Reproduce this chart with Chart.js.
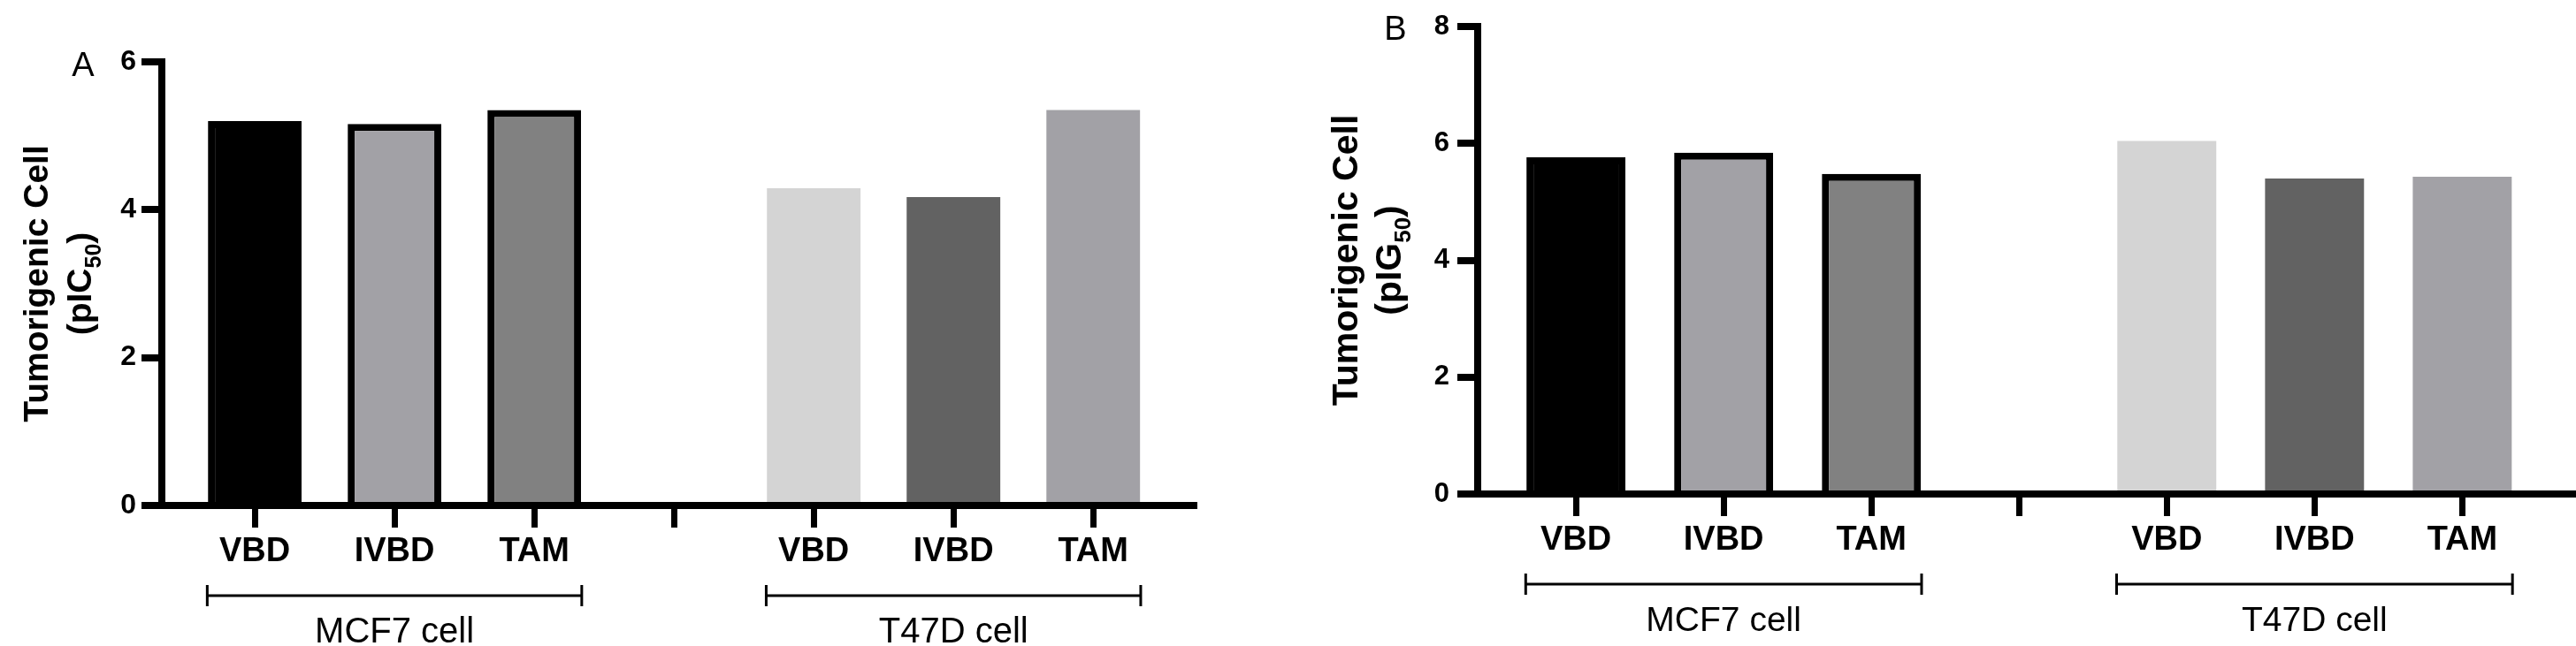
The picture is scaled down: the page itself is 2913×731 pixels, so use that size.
<!DOCTYPE html>
<html lang="en">

<head>
    <meta charset="UTF-8">
    <script src="https://cdn.jsdelivr.net/npm/chart.js@4"></script>
    <title>Tumorigenic Cell</title>
    <style>
        html, body { margin: 0; padding: 0; background: #fff; }
        body { width: 2913px; height: 731px; position: relative; overflow: hidden; }
        .painel { position: absolute; top: 0; height: 731px; }
        #painelA { left: 0; width: 1456px; }
        #painelB { left: 1456px; width: 1457px; }
    </style>
</head>

<body>
    <div class="painel" id="painelA"><canvas id="graficoA"></canvas></div>
    <div class="painel" id="painelB"><canvas id="graficoB"></canvas></div>
</body>

</html>

<script>
    // categories on the x axis (blank slot = gap between the two cell lines)
    const tickLabels = ['VBD', 'IVBD', 'TAM', '', 'VBD', 'IVBD', 'TAM'];
    const groupNames = ['MCF7 cell', 'T47D cell'];
    const groupFirst = [0, 4];
    const groupLast = [2, 6];

    // pIC50 (panel A) and pIG50 (panel B)
    const valuesA = [5.20, 5.16, 5.35, null, 4.29, 4.17, 5.35];
    const valuesB = [5.76, 5.84, 5.48, null, 6.04, 5.40, 5.43];

    const yTicksA = [0, 2, 4, 6];
    const yTicksB = [0, 2, 4, 6, 8];

    const barColors = ['#000000', '#a2a1a6', '#818181', null, '#d4d4d4', '#626262', '#a2a1a6'];
    const barBorders = [8, 8, 8, 0, 0, 0, 0];

    const FONT = '"Liberation Sans", Arial, sans-serif';

    function criarGrafico(canvasId, cfg) {
        const pontos = [];
        const cores = [];
        const bordas = [];
        cfg.values.forEach((v, i) => {
            if (v === null) return;
            pontos.push({ x: i, y: v });
            cores.push(barColors[i]);
            bordas.push(barBorders[i]);
        });

        // letter, rotated y title with subscript, group brackets
        const decoracao = {
            id: 'decoracao',
            afterDraw(chart) {
                const ctx = chart.ctx;
                const area = chart.chartArea;
                const sx = chart.scales.x;
                ctx.save();
                ctx.fillStyle = '#000';
                ctx.strokeStyle = '#000';

                ctx.font = `38px ${FONT}`;
                ctx.textAlign = 'center';
                ctx.textBaseline = 'alphabetic';
                ctx.fillText(cfg.letter, cfg.letterX, cfg.letterY);

                const cy = (area.top + area.bottom) / 2;
                ctx.save();
                ctx.translate(cfg.title1X, cy);
                ctx.rotate(-Math.PI / 2);
                ctx.font = `bold ${cfg.titleSize}px ${FONT}`;
                ctx.textAlign = 'center';
                ctx.fillText('Tumorigenic Cell', 0, 0);
                ctx.restore();

                ctx.save();
                ctx.translate(cfg.title2X, cy);
                ctx.rotate(-Math.PI / 2);
                const fGrande = `bold ${cfg.titleSize}px ${FONT}`;
                const fSub = `bold ${Math.round(cfg.titleSize * 0.64)}px ${FONT}`;
                const p1 = '(pI' + cfg.subLetter;
                const p2 = '50';
                const p3 = ')';
                ctx.font = fGrande;
                const w1 = ctx.measureText(p1).width;
                const w3 = ctx.measureText(p3).width;
                ctx.font = fSub;
                const w2 = ctx.measureText(p2).width;
                let x0 = -(w1 + w2 + w3) / 2;
                ctx.textAlign = 'left';
                ctx.font = fGrande;
                ctx.fillText(p1, x0, 0);
                ctx.font = fSub;
                ctx.fillText(p2, x0 + w1, 11);
                ctx.font = fGrande;
                ctx.fillText(p3, x0 + w1 + w2, 0);
                ctx.restore();

                ctx.lineWidth = 3;
                ctx.textAlign = 'center';
                ctx.font = `${cfg.groupSize}px ${FONT}`;
                groupNames.forEach((nome, k) => {
                    const x1 = sx.getPixelForValue(groupFirst[k] - 0.34);
                    const x2 = sx.getPixelForValue(groupLast[k] + 0.34);
                    const y = area.bottom + 102;
                    ctx.beginPath();
                    ctx.moveTo(x1, y);
                    ctx.lineTo(x2, y);
                    ctx.moveTo(x1, y - 12);
                    ctx.lineTo(x1, y + 12);
                    ctx.moveTo(x2, y - 12);
                    ctx.lineTo(x2, y + 12);
                    ctx.stroke();
                    ctx.fillText(nome, (x1 + x2) / 2, area.bottom + 155);
                });
                ctx.restore();
            }
        };

        return new Chart(document.getElementById(canvasId), {
            type: 'bar',
            data: {
                datasets: [{
                    data: pontos,
                    backgroundColor: cores,
                    borderColor: '#000',
                    borderWidth: bordas,
                    borderSkipped: 'bottom',
                    barPercentage: 0.67,
                    categoryPercentage: 1
                }]
            },
            options: {
                responsive: true,
                maintainAspectRatio: false,
                animation: false,
                devicePixelRatio: 1,
                layout: { padding: { left: 0, top: cfg.top, right: cfg.padRight, bottom: cfg.padBottom } },
                plugins: { legend: { display: false }, tooltip: { enabled: false } },
                scales: {
                    x: {
                        type: 'linear',
                        offset: false,
                        min: -0.665,
                        max: cfg.xMax,
                        z: 1,
                        afterBuildTicks: (s) => { s.ticks = tickLabels.map((t, i) => ({ value: i })); },
                        afterFit: (s) => { s.height = 100; },
                        ticks: {
                            callback: (v) => tickLabels[v],
                            autoSkip: false,
                            maxRotation: 0,
                            padding: 5,
                            color: '#000',
                            font: { family: FONT, size: cfg.tickSize, weight: 'bold' }
                        },
                        grid: { drawOnChartArea: false, offset: false, tickLength: 25, lineWidth: 7, color: '#000' },
                        border: { display: true, width: 8, color: '#000' }
                    },
                    y: {
                        min: 0,
                        max: cfg.yMax,
                        z: 1,
                        afterBuildTicks: (s) => { s.ticks = cfg.yTicks.map((v) => ({ value: v })); },
                        afterFit: (s) => { s.width = cfg.axisX; },
                        ticks: {
                            padding: cfg.yPad,
                            color: '#000',
                            font: { family: FONT, size: cfg.yTickSize, weight: 'bold' }
                        },
                        grid: { drawOnChartArea: false, tickLength: 23, lineWidth: 8, color: '#000' },
                        border: { display: true, width: 8, color: '#000' }
                    }
                }
            },
            plugins: [decoracao]
        });
    }

    criarGrafico('graficoA', {
        values: valuesA, yTicks: yTicksA, yMax: 6, subLetter: 'C', letter: 'A',
        letterX: 94, letterY: 86, title1X: 54, title2X: 103, titleSize: 39,
        top: 70, padBottom: 59, padRight: 106, xMax: 6.72, axisX: 183,
        tickSize: 38, yTickSize: 32, yPad: 6, groupSize: 40
    });

    criarGrafico('graficoB', {
        values: valuesB, yTicks: yTicksB, yMax: 8, subLetter: 'G', letter: 'B',
        letterX: 122, letterY: 45, title1X: 79, title2X: 128, titleSize: 41,
        top: 30, padBottom: 72, padRight: 0, xMax: 6.77, axisX: 215,
        tickSize: 38, yTickSize: 31, yPad: 9, groupSize: 39
    });
</script>
